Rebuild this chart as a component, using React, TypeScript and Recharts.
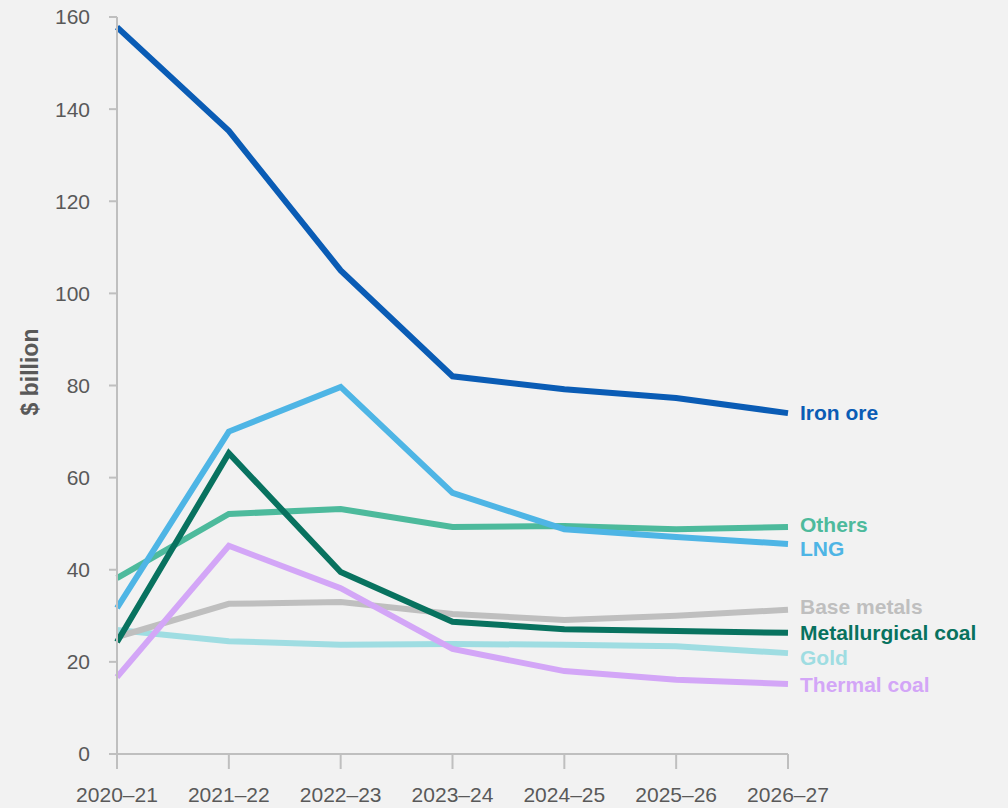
import React from 'react';
import { LineChart, Line, XAxis, YAxis } from 'recharts';

const years = ['2020–21', '2021–22', '2022–23', '2023–24', '2024–25', '2025–26', '2026–27'];
const yTicks = [0, 20, 40, 60, 80, 100, 120, 140, 160];

const ironOre = [157.8, 135.3, 105, 82, 79.2, 77.3, 74];
const lng = [31.7, 70, 79.7, 56.7, 48.8, 47.1, 45.6];
const others = [38.2, 52.1, 53.2, 49.3, 49.5, 48.8, 49.3];
const baseMetals = [25.4, 32.6, 33, 30.4, 29.1, 30, 31.3];
const metCoal = [24.3, 65.3, 39.5, 28.7, 27.1, 26.7, 26.3];
const gold = [26.9, 24.5, 23.7, 23.9, 23.7, 23.4, 21.9];
const thermalCoal = [16.7, 45.2, 36, 22.8, 18, 16.1, 15.2];

// draw order: back to front
const series = [
  { key: 'gold', name: 'Gold', values: gold, color: '#9fdde2', dy: 5 },
  { key: 'base', name: 'Base metals', values: baseMetals, color: '#bfbfbf', dy: -3 },
  { key: 'thermal', name: 'Thermal coal', values: thermalCoal, color: '#d3a6f7', dy: 1 },
  { key: 'others', name: 'Others', values: others, color: '#4dba9c', dy: -2 },
  { key: 'lng', name: 'LNG', values: lng, color: '#4eb5e5', dy: 5 },
  { key: 'met', name: 'Metallurgical coal', values: metCoal, color: '#08725f', dy: 0 },
  { key: 'iron', name: 'Iron ore', values: ironOre, color: '#0a5cb5', dy: 0 },
];

const data = years.map((year, i) => {
  const row: Record<string, string | number> = { year };
  series.forEach((s) => {
    row[s.key] = s.values[i];
  });
  return row;
});

const GREY = '#595959';
const AXIS = '#bfbfbf';
const FONT = 'Liberation Sans, Arial, sans-serif';

const EndLabel = (name: string, color: string, dy: number) => (props: any) => {
  const { x, y, index } = props;
  if (index !== years.length - 1) return null;
  return (
    <text x={x + 12} y={y + dy} dy="0.35em" fill={color} fontSize={21} fontWeight="bold" fontFamily={FONT}>
      {name}
    </text>
  );
};

const YLabel = () => (
  <text
    x={30}
    y={372}
    transform="rotate(-90 30 372)"
    textAnchor="middle"
    dominantBaseline="central"
    fill={GREY}
    fontSize={23}
    fontWeight="bold"
    fontFamily={FONT}
  >
    $ billion
  </text>
);

export default function App() {
  return (
    <div style={{ position: 'absolute', top: 0, left: 0, width: 1008, height: 808, background: '#f2f2f2', overflow: 'hidden' }}>
      <LineChart width={1008} height={808} data={data} margin={{ top: 17, right: 220, bottom: 14, left: 0 }}>
        <XAxis
          dataKey="year"
          interval={0}
          height={40}
          stroke={AXIS}
          strokeWidth={2}
          tickSize={15}
          tickMargin={18}
          tick={{ fill: GREY, fontSize: 21, fontFamily: FONT }}
        />
        <YAxis
          domain={[0, 160]}
          ticks={yTicks}
          width={117}
          stroke={AXIS}
          strokeWidth={2}
          tickSize={8}
          tickMargin={19}
          tick={{ fill: GREY, fontSize: 21, fontFamily: FONT }}
          label={<YLabel />}
        />
        {series.map((s) => (
          <Line
            key={s.key}
            type="linear"
            dataKey={s.key}
            stroke={s.color}
            strokeWidth={6}
            dot={false}
            isAnimationActive={false}
            label={EndLabel(s.name, s.color, s.dy)}
          />
        ))}
      </LineChart>
    </div>
  );
}
